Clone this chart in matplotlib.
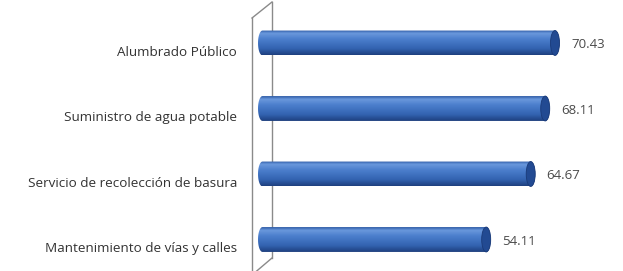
import numpy as np
import matplotlib.pyplot as plt
from matplotlib.colors import LinearSegmentedColormap
from matplotlib.patches import Ellipse, PathPatch
from matplotlib.path import Path
from matplotlib.lines import Line2D

categories = ["Alumbrado Público", "Suministro de agua potable",
              "Servicio de recolección de basura", "Mantenimiento de vías y calles"]
values = [70.43, 68.11, 64.67, 54.11]
value_labels = ["70.43", "68.11", "64.67", "54.11"]

W, H = 623, 271
fig = plt.figure(figsize=(W / 100, H / 100), dpi=100)
fig.patch.set_facecolor("white")

# value axis: zero at x=258 px, axes start a bit to the left for the labels
px_per_unit = 4.217
x0 = 258
ax_left = 240
ax = fig.add_axes([ax_left / W, 0, (W - ax_left) / W, 1])
first_c, step = 43, 65.5
ax.axis("off")
ax.patch.set_visible(False)

cmap = LinearSegmentedColormap.from_list(
    "cyl", [(0.0, "#2d5ba6"), (0.12, "#6a98dc"), (0.35, "#4c7fcd"),
            (0.75, "#3262b0"), (1.0, "#1e407f")])
grad = np.linspace(0, 1, 64).reshape(-1, 1)

bh = 0.38
cap_w = 9 / px_per_unit

def cyl_path(v, y):
    # body with rounded left and right ends
    t1 = np.linspace(np.pi / 2, 3 * np.pi / 2, 30)
    t2 = np.linspace(-np.pi / 2, np.pi / 2, 30)
    left = np.column_stack([cap_w / 2 + cap_w / 2 * np.cos(t1), y - bh / 2 * np.sin(t1)])
    right = np.column_stack([v + cap_w / 2 * np.cos(t2), y - bh / 2 * np.sin(t2)])
    pts = np.vstack([left, right, left[:1]])
    codes = [Path.MOVETO] + [Path.LINETO] * (len(pts) - 2) + [Path.CLOSEPOLY]
    return Path(pts, codes)

for i, (cat, v, lab) in enumerate(zip(categories, values, value_labels)):
    patch = PathPatch(cyl_path(v, i), facecolor="none", edgecolor="none",
                      transform=ax.transData)
    ax.add_patch(patch)
    im = ax.imshow(grad, cmap=cmap, aspect="auto", interpolation="bilinear",
                   extent=(0, v + cap_w, i + bh / 2, i - bh / 2), zorder=2)
    im.set_clip_path(patch)
    ax.add_patch(Ellipse((v, i), cap_w, bh, facecolor="#224a92",
                         edgecolor="#1a3a78", lw=0.6, zorder=3))
    ax.text(v + 3.8, i + 0.03, lab, ha="left", va="center", fontsize=9.5,
            family="Open Sans", color="#4a4a4a")
    ax.text(-21 / px_per_unit, i + 0.14, cat, ha="right", va="center", fontsize=9.7,
            family="Open Sans", color="#333333", clip_on=False)

ax.set_xlim(-(x0 - ax_left) / px_per_unit, (W - x0) / px_per_unit)
ax.set_ylim((H - first_c) / step, -first_c / step)

# 3-D frame lines (wall edges), drawn behind the bars
def fl(xs, ys):
    fig.add_artist(Line2D([x / W for x in xs], [1 - y / H for y in ys],
                          transform=fig.transFigure, color="#8a8a8a", lw=1.0, zorder=-1))

fl([252, 252], [18, 275])
fl([252, 272], [18, 2])
fl([272, 272], [2, 258])
fl([252, 272], [275, 258])

fig.savefig("out.png", dpi=100, facecolor="white")
